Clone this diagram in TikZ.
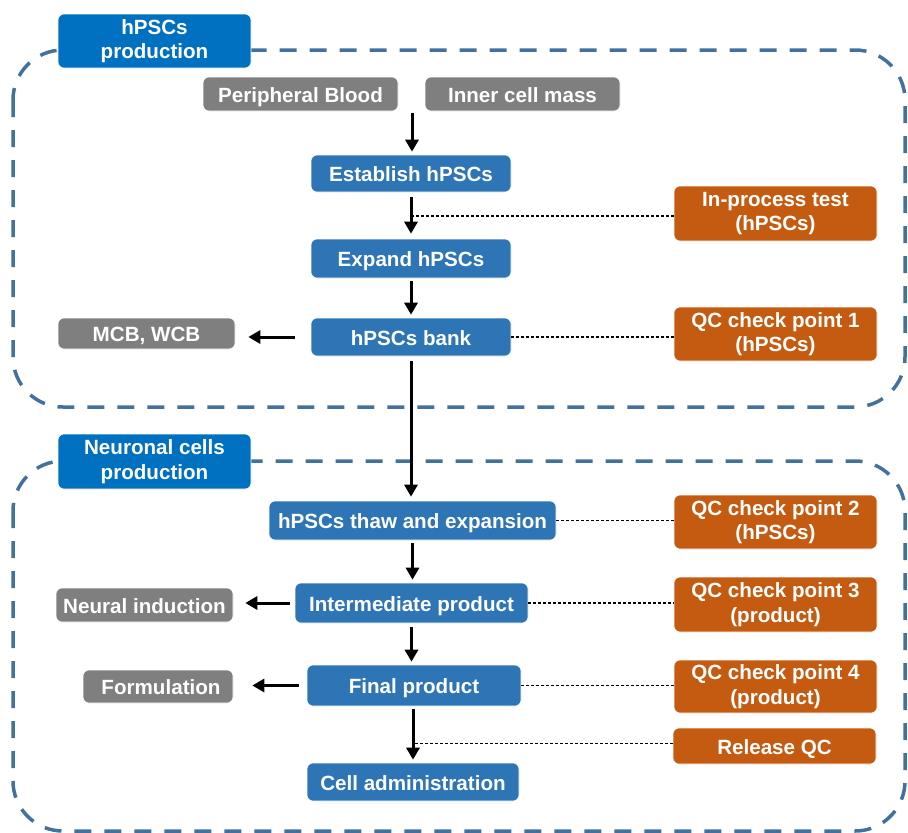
\documentclass[tikz,border=0pt]{standalone}
\usepackage{fontspec}
\setmainfont{Liberation Sans}
\usetikzlibrary{arrows.meta}
\definecolor{hdr}{RGB}{0,112,192}
\definecolor{stepblue}{RGB}{46,117,182}
\definecolor{grayb}{RGB}{127,127,127}
\definecolor{orng}{RGB}{197,90,17}
\definecolor{dashc}{RGB}{65,113,156}
\begin{document}
\begin{tikzpicture}[x=1pt,y=-1pt,
 base/.style={rounded corners=6pt, inner sep=0pt, text=white, font=\fontsize{20.6}{24.5}\selectfont\bfseries, align=center, draw=white, line width=0.6pt},
 oneline/.style={text height=16pt, text depth=0pt},
 hdrbox/.style={base, fill=hdr, minimum width=193pt},
 bluebox/.style={base, oneline, fill=stepblue},
 graybox/.style={base, oneline, fill=grayb},
 qcbox/.style={base, fill=orng, minimum width=203pt},
 region/.style={draw=dashc, line width=3.5pt, dash pattern=on 17pt off 13pt, rounded corners=50pt},
 flow/.style={-{Triangle[width=13pt,length=12pt]}, line width=3pt},
 link/.style={dash pattern=on 3pt off 2pt, line width=1.5pt}
]
\useasboundingbox (0,0) rectangle (908,833);
% regions
\draw[region] (13,50) rectangle (905,407);
\draw[region] (13,461) rectangle (905,831);
% headers
\node[hdrbox, minimum height=54pt] (h1) at (154.5,41) {hPSCs\\production};
\node[hdrbox, minimum height=55pt] (h2) at (154.5,461.5) {Neuronal cells\\production};
% sources
\node[graybox, minimum width=195pt, minimum height=34pt] (pb) at (300.5,94) {Peripheral Blood};
\node[graybox, minimum width=195pt, minimum height=34pt] (icm) at (522.5,94) {Inner cell mass};
\coordinate (src) at (412,113);
% main flow
\node[bluebox, minimum width=200pt, minimum height=37pt] (est) at (411,173.5) {Establish hPSCs};
\node[bluebox, minimum width=200pt, minimum height=39pt] (exp) at (411,258.5) {Expand hPSCs};
\node[bluebox, minimum width=200pt, minimum height=38pt] (bank) at (411,337) {hPSCs bank};
\node[bluebox, minimum width=287pt, minimum height=39pt] (thaw) at (412.5,520.5) {hPSCs thaw and expansion};
\node[bluebox, minimum width=233pt, minimum height=40pt] (int) at (411.5,603) {Intermediate product};
\node[bluebox, minimum width=214pt, minimum height=41pt] (fin) at (414,685.5) {Final product};
\node[bluebox, minimum width=212pt, minimum height=38pt] (cell) at (413,782) {Cell administration};
% side outputs
\node[graybox, minimum width=177pt, minimum height=31pt] (mcb) at (146.5,333.5) {MCB, WCB};
\node[graybox, minimum width=177pt, minimum height=34pt] (neu) at (144.5,605) {Neural induction};
\node[graybox, minimum width=150pt, minimum height=33pt] (form) at (158,686.5) {\hspace*{6pt}Formulation};
% QC boxes
\node[qcbox, minimum height=55pt] (ipt) at (775.5,213.5) {In-process test\\(hPSCs)};
\node[qcbox, minimum height=54pt] (qc1) at (775.5,334) {QC check point 1\\(hPSCs)};
\node[qcbox, minimum height=54pt] (qc2) at (775.5,522) {QC check point 2\\(hPSCs)};
\node[qcbox, minimum height=55pt] (qc3) at (775.5,604.5) {QC check point 3\\(product)};
\node[qcbox, minimum height=53pt] (qc4) at (775.5,686.5) {QC check point 4\\(product)};
\node[qcbox, oneline, minimum height=36pt] (rel) at (774.5,746) {Release QC};
% arrows
\draw[flow, shorten >=3pt] (src) -- (src |- est.north);
\draw[flow, shorten <=5pt, shorten >=5pt] (est.south) -- (exp.north);
\draw[flow, shorten <=3pt, shorten >=3pt] (exp.south) -- (bank.north);
\draw[flow, shorten <=5pt, shorten >=4pt] (bank.south) -- (bank.south |- thaw.north);
\draw[flow, shorten <=3pt, shorten >=3pt] (thaw.south) -- (thaw.south |- int.north);
\draw[flow, shorten <=4pt, shorten >=3pt] (int.south) -- (int.south |- fin.north);
\draw[flow, shorten <=3pt, shorten >=3pt] (fin.south -| cell.north) -- (cell.north);
\draw[flow, shorten <=16pt, shorten >=13pt] (bank.west) -- (bank.west -| mcb.east);
\draw[flow, shorten <=5pt, shorten >=12pt] (int.west) -- (int.west -| neu.east);
\draw[flow, shorten <=8pt, shorten >=19pt] (fin.west) -- (fin.west -| form.east);
% QC links
\draw[link] ([yshift=-2.5pt]ipt.west) -- ([yshift=-2.5pt]ipt.west -| est.south);
\draw[link] (bank.east) -- (bank.east -| qc1.west);
\draw[link] (thaw.east) -- (thaw.east -| qc2.west);
\draw[link] (int.east) -- (int.east -| qc3.west);
\draw[link] (fin.east) -- (fin.east -| qc4.west);
\draw[link] ([yshift=2.5pt]rel.west) -- ([yshift=2.5pt]rel.west -| cell.north);
\end{tikzpicture}
\end{document}
